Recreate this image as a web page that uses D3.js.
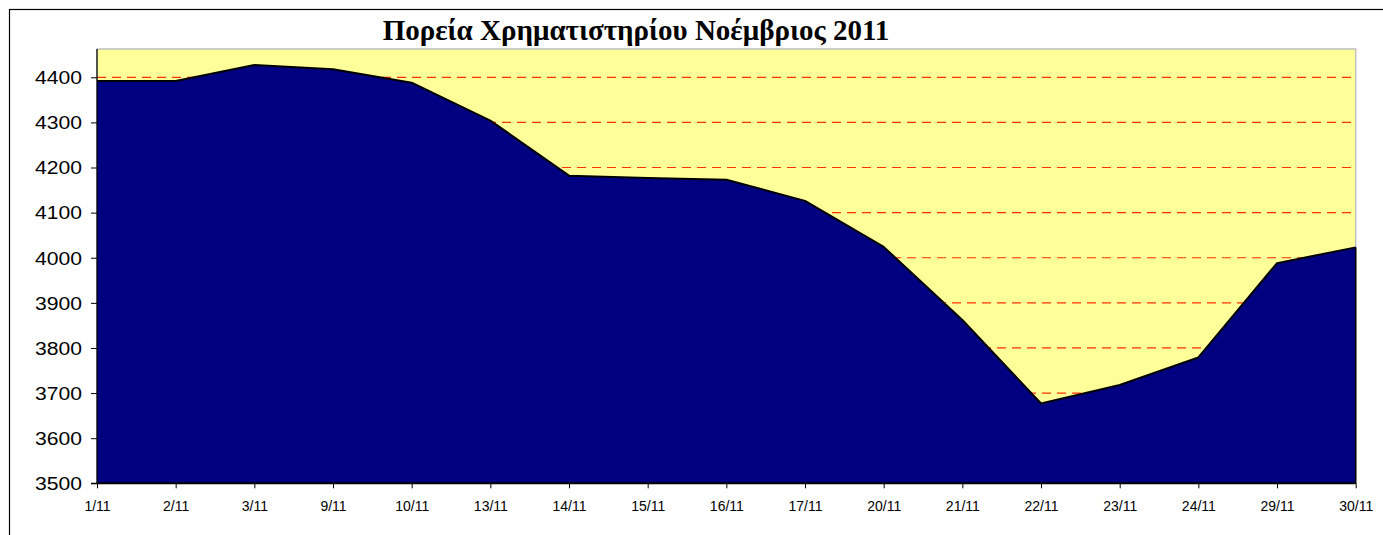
<!DOCTYPE html>
<html><head><meta charset="utf-8">
<script src="https://cdn.jsdelivr.net/npm/d3@7"></script>
<style>body{margin:0;background:#fff}svg{display:block}</style>
</head><body>
<svg id="c" width="1383" height="535"></svg>
<script>
const title = "Πορεία Χρηματιστηρίου Νοέμβριος 2011";
const categories = ["1/11","2/11","3/11","9/11","10/11","13/11","14/11","15/11","16/11","17/11","20/11","21/11","22/11","23/11","24/11","29/11","30/11"];
const values = [4392,4392,4427,4418,4388,4304,4182,4177,4173,4126,4024,3862,3677,3718,3779,3988,4023];
const yTicks = [3500,3600,3700,3800,3900,4000,4100,4200,4300,4400];

const svg = d3.select("#c");
const L = 97, R = 1355.7, T = 49, B = 483.3;
const x = d3.scalePoint().domain(categories).range([L, R]);
const y = d3.scaleLinear().domain([3500, 4462.7]).range([B, T]);

// outer chart border
svg.append("rect").attr("x", 9.5).attr("y", 9.5).attr("width", 1500).attr("height", 600)
  .attr("fill", "#fff").attr("stroke", "#000").attr("stroke-width", 1.2);

// plot background
svg.append("rect").attr("x", L).attr("y", T).attr("width", R - L).attr("height", B - T)
  .attr("fill", "#FFFF99").attr("stroke", "#C0C0C0").attr("stroke-width", 1.5);

// gridlines
svg.append("g").selectAll("line").data(yTicks.filter(d => d > 3500)).join("line")
  .attr("x1", L).attr("x2", R).attr("y1", d => y(d)).attr("y2", d => y(d))
  .attr("stroke", "#FF3300").attr("stroke-width", 1.2).attr("stroke-dasharray", "9,6");

// area
const area = d3.area().x((d, i) => x(categories[i])).y0(y(3500)).y1(d => y(d));
svg.append("path").datum(values).attr("d", area).attr("fill", "#000080");
const line = d3.line().x((d, i) => x(categories[i])).y(d => y(d));
svg.append("path").datum(values).attr("d", line).attr("fill", "none")
  .attr("stroke", "#000").attr("stroke-width", 2).attr("stroke-linejoin", "round");
// right edge of area
svg.append("line").attr("x1", R).attr("x2", R).attr("y1", y(values[values.length-1])).attr("y2", B)
  .attr("stroke", "#000").attr("stroke-width", 1.5);

// y axis
const yAxis = d3.axisLeft(y).tickValues(yTicks).tickSize(6).tickPadding(9).tickFormat(d3.format("d"));
const gy = svg.append("g").attr("transform", `translate(${L},0)`).call(yAxis);
gy.select(".domain").attr("stroke", "#000").attr("stroke-width", 1.2).attr("d", `M-6,${B}H0V${T}`);
gy.selectAll(".tick line").attr("stroke", "#000");
gy.selectAll(".tick text").attr("font-family", "Arial, 'Liberation Sans', sans-serif")
  .attr("font-size", 18).attr("fill", "#000").attr("dy", "0.35em")
  .attr("textLength", 47).attr("lengthAdjust", "spacingAndGlyphs");

// x axis
const xAxis = d3.axisBottom(x).tickSize(5).tickPadding(13);
const gx = svg.append("g").attr("transform", `translate(0,${B})`).call(xAxis);
gx.select(".domain").attr("stroke", "#000").attr("stroke-width", 2).attr("d", `M${L},0H${R}`);
gx.selectAll(".tick line").attr("stroke", "#000");
gx.selectAll(".tick text").attr("font-family", "Arial, 'Liberation Sans', sans-serif")
  .attr("font-size", 14).attr("fill", "#000");

// title
svg.append("text").attr("x", 636).attr("y", 40).attr("text-anchor", "middle")
  .attr("font-family", "'Times New Roman', 'Liberation Serif', serif").attr("font-weight", "bold")
  .attr("font-size", 29).attr("fill", "#000").text(title);
</script>
</body></html>
